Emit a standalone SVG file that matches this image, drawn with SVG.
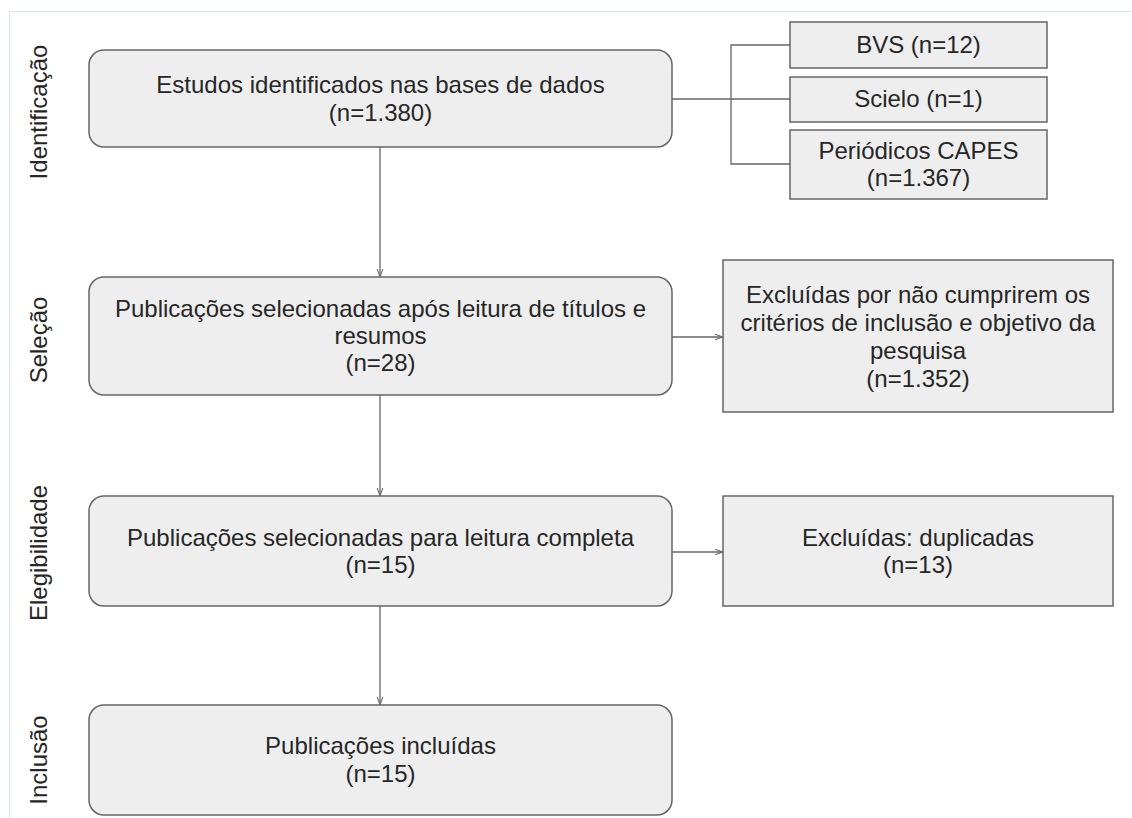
<svg xmlns="http://www.w3.org/2000/svg" width="1132" height="818" viewBox="0 0 1132 818">
<style>
.box{fill:#eeeeee;stroke:#666666;stroke-width:1.5}
.t{font-family:"Liberation Sans",Arial,sans-serif;font-size:24px;fill:#262626;text-anchor:middle}
.lane{font-family:"Liberation Sans",Arial,sans-serif;font-size:24px;fill:#262626;text-anchor:middle}
.c{fill:none;stroke:#666666;stroke-width:1.3}
</style>
<defs>
<marker id="arr" viewBox="0 0 10 10" refX="10" refY="5" markerWidth="8" markerHeight="8" orient="auto" markerUnits="userSpaceOnUse">
<path d="M0,1.5 L10,5 L0,8.5" fill="none" stroke="#666666" stroke-width="1.3"/>
</marker>
</defs>
<rect x="0" y="0" width="1132" height="818" fill="#ffffff"/>
<path d="M9.5,818 V11.5 H1132" fill="none" stroke="#d5e8dc" stroke-width="1"/>
<g id="lanes">
<text class="lane" transform="translate(47,112) rotate(-90)">Identificação</text>
<text class="lane" transform="translate(47,340) rotate(-90)">Seleção</text>
<text class="lane" transform="translate(47,553) rotate(-90)">Elegibilidade</text>
<text class="lane" transform="translate(47,760) rotate(-90)">Inclusão</text>
</g>
<g id="connectors">
<path class="c" d="M672,99 H790"/>
<path class="c" d="M790,45 H731 V164 H790"/>
<path class="c" d="M380,147 V277" marker-end="url(#arr)"/>
<path class="c" d="M672,337 H723" marker-end="url(#arr)"/>
<path class="c" d="M380,395 V496" marker-end="url(#arr)"/>
<path class="c" d="M672,552 H723" marker-end="url(#arr)"/>
<path class="c" d="M380,606 V705" marker-end="url(#arr)"/>
</g>
<g id="n1">
<rect class="box" x="89" y="50" width="583" height="97" rx="15"/>
<text class="t" x="380.5" y="93">Estudos identificados nas bases de dados</text>
<text class="t" x="380.5" y="121">(n=1.380)</text>
</g>
<g id="bvs">
<rect class="box" x="790" y="22" width="257" height="46"/>
<text class="t" x="918.5" y="53">BVS (n=12)</text>
</g>
<g id="scielo">
<rect class="box" x="790" y="77" width="257" height="45"/>
<text class="t" x="918.5" y="107">Scielo (n=1)</text>
</g>
<g id="capes">
<rect class="box" x="790" y="130" width="257" height="69"/>
<text class="t" x="918.5" y="159">Periódicos CAPES</text>
<text class="t" x="918.5" y="186">(n=1.367)</text>
</g>
<g id="n2">
<rect class="box" x="89" y="277" width="583" height="118" rx="15"/>
<text class="t" x="380.5" y="317">Publicações selecionadas após leitura de títulos e</text>
<text class="t" x="380.5" y="344">resumos</text>
<text class="t" x="380.5" y="371">(n=28)</text>
</g>
<g id="excl1">
<rect class="box" x="723" y="260" width="390" height="152"/>
<text class="t" x="918" y="303">Excluídas por não cumprirem os</text>
<text class="t" x="918" y="331">critérios de inclusão e objetivo da</text>
<text class="t" x="918" y="359">pesquisa</text>
<text class="t" x="918" y="387">(n=1.352)</text>
</g>
<g id="n3">
<rect class="box" x="89" y="496" width="583" height="110" rx="15"/>
<text class="t" x="380.5" y="546">Publicações selecionadas para leitura completa</text>
<text class="t" x="380.5" y="573">(n=15)</text>
</g>
<g id="excl2">
<rect class="box" x="723" y="496" width="390" height="110"/>
<text class="t" x="918" y="546">Excluídas: duplicadas</text>
<text class="t" x="918" y="573">(n=13)</text>
</g>
<g id="n4">
<rect class="box" x="89" y="705" width="583" height="110" rx="15"/>
<text class="t" x="380.5" y="754">Publicações incluídas</text>
<text class="t" x="380.5" y="782">(n=15)</text>
</g>
</svg>
